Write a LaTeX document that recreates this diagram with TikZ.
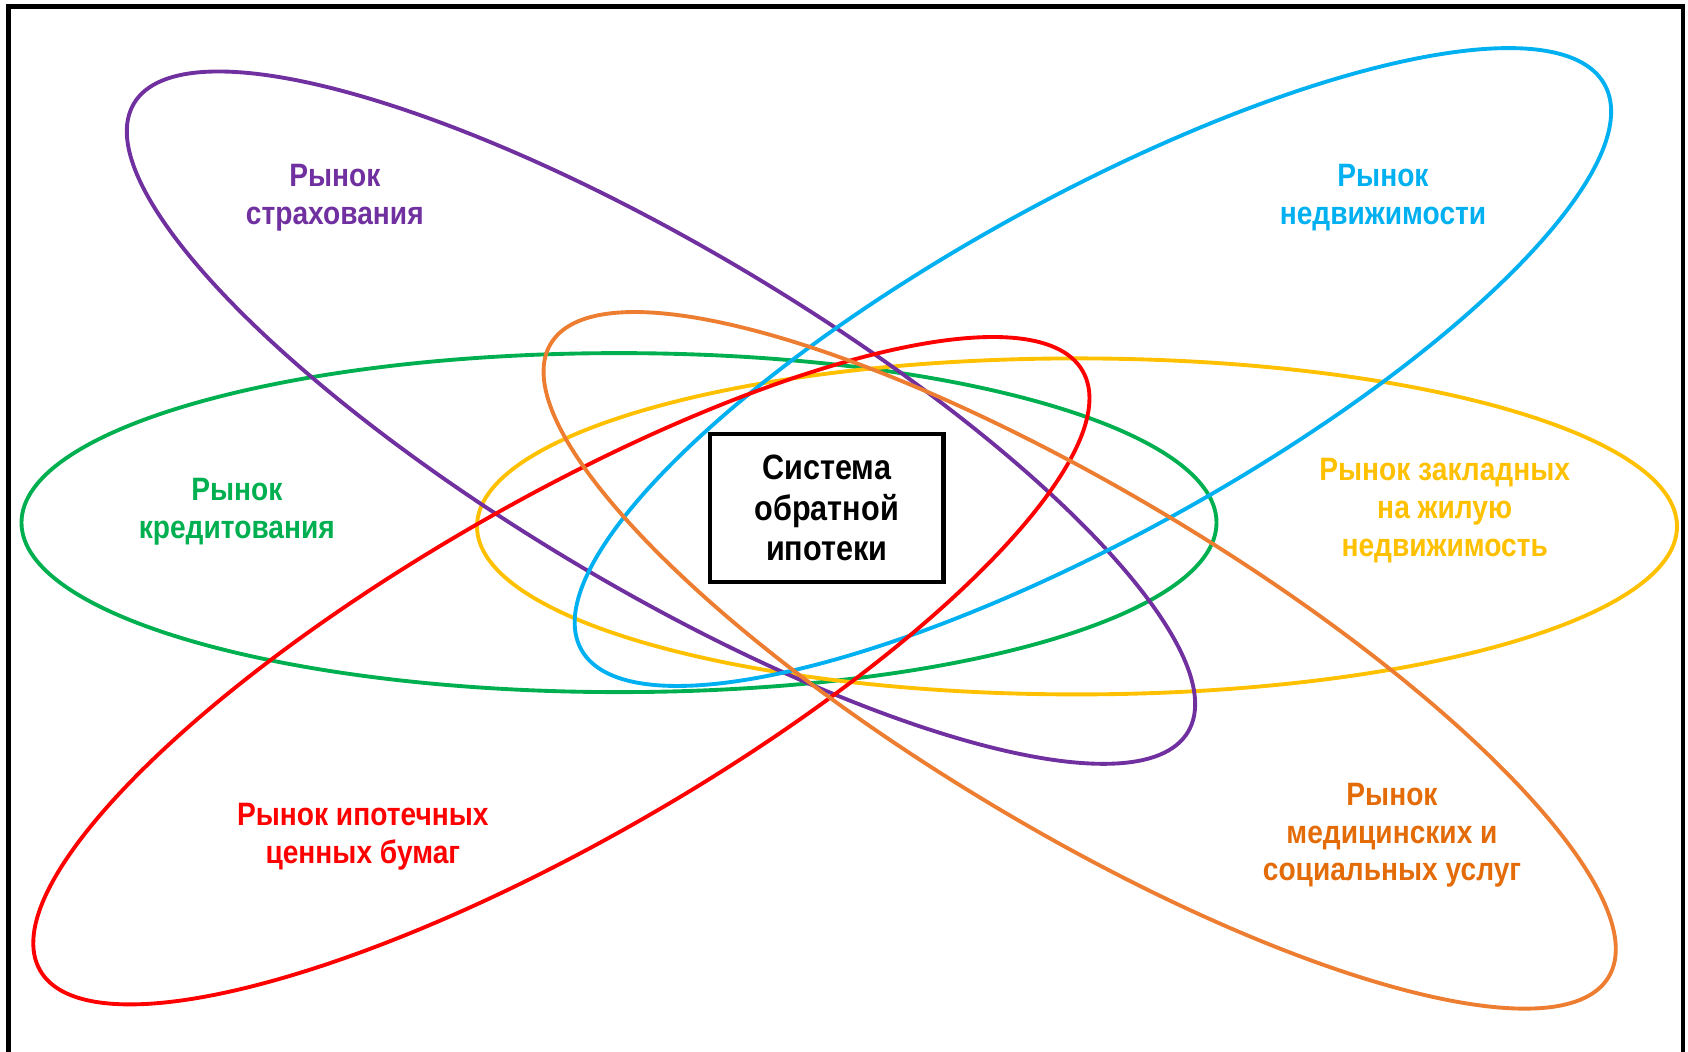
\documentclass[tikz,border=0pt]{standalone}
\usepackage{fontspec}
\newfontfamily\uzkiy[FakeStretch=0.87]{Liberation Sans}
\usetikzlibrary{positioning}
\definecolor{ipfiolet}{HTML}{7030A0}
\definecolor{ipgoluboy}{HTML}{00B0F0}
\definecolor{ipzeleny}{HTML}{00B050}
\definecolor{ipzholty}{HTML}{FFC000}
\definecolor{ipkrasny}{HTML}{FF0000}
\definecolor{iporanzh}{HTML}{ED7D31}
\definecolor{iporanzhtekst}{HTML}{E36C09}
\tikzset{
  ramka/.style={draw=black, line width=1.2pt},
  rynokoval/.style={line width=1.1pt},
  rynoktekst/.style={font=\uzkiy\bfseries\fontsize{9.2}{10.7}\selectfont, align=center, inner sep=0pt},
  sistema/.style={draw=black, line width=1.3pt, fill=white, minimum width=2.33cm, minimum height=1.48cm,
                  font=\uzkiy\bfseries\fontsize{10}{11.5}\selectfont, align=center, inner sep=0pt},
}
\begin{document}
\begin{tikzpicture}[x=0.01cm, y=-0.01cm]
    \useasboundingbox (0,0) rectangle (1688,1051);
    \draw[ramka] (8.6,6.5) rectangle (1682.6,1080);
    % centres of the ovals
    \coordinate (czel) at (619,522.6);
    \coordinate (czhel) at (1077,526.4);
    \coordinate (cfiol) at (661,417.7);
    \coordinate (cgol) at (1093,367);
    \coordinate (ckras) at (561.4,670.7);
    \coordinate (coranzh) at (1079.7,660.4);
    \draw[rynokoval, draw=ipzeleny] (czel) ellipse [x radius=597.5, y radius=169.5];
    \draw[rynokoval, draw=ipzholty] (czhel) ellipse [x radius=600, y radius=168];
    \draw[rynokoval, draw=ipfiolet, rotate around={-30.8:(cfiol)}] (cfiol) ellipse [x radius=613.6, y radius=169];
    \draw[rynokoval, draw=ipgoluboy, rotate around={28.9:(cgol)}] (cgol) ellipse [x radius=584.5, y radius=169];
    \draw[rynokoval, draw=ipkrasny, rotate around={29.9:(ckras)}] (ckras) ellipse [x radius=601.3, y radius=169];
    \draw[rynokoval, draw=iporanzh, rotate around={-30.9:(coranzh)}] (coranzh) ellipse [x radius=616.5, y radius=169];
    % labels
    \node[rynoktekst, text=ipfiolet] (strakh) at (334.8,197.5) {Рынок\\страхования};
    \node[rynoktekst, text=ipgoluboy] (nedv) at (1383,197.5) {Рынок\\недвижимости};
    \node[rynoktekst, text=ipzeleny] (kredit) at (236.8,511.8) {Рынок\\кредитования};
    \node[rynoktekst, text=ipzholty] (zaklad) at (1444.7,510.5) {Рынок закладных\\на жилую\\недвижимость};
    \node[rynoktekst, text=ipkrasny] (bumagi) at (362.8,836.4) {Рынок ипотечных\\ценных бумаг};
    \node[rynoktekst, text=iporanzhtekst] (uslugi) at (1392,835.3) {Рынок\\медицинских и\\социальных услуг};
    \node[sistema] (ipoteka) at (826.7,508.1) {\raisebox{-1pt}{\parbox{2cm}{\centering Система\\обратной\\ипотеки}}};
\end{tikzpicture}
\end{document}
